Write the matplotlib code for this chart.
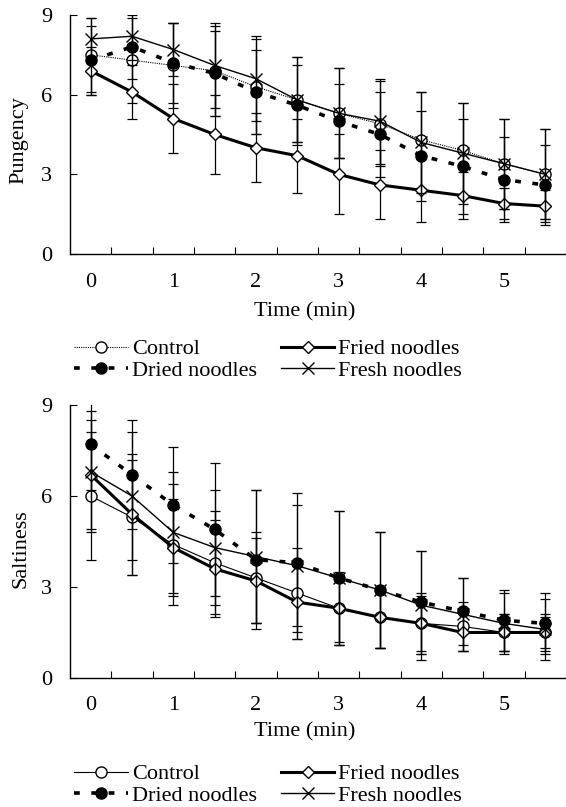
import numpy as np
import matplotlib
matplotlib.use("Agg")
import matplotlib.pyplot as plt

plt.rcParams.update({
    "font.family": "Liberation Serif", "font.size": 16,
    "axes.linewidth": 1.0, "xtick.direction": "in", "ytick.direction": "in",
})

time = [0, 0.5, 1, 1.5, 2, 2.5, 3, 3.5, 4, 4.5, 5, 5.5]
series = ["Control", "Fried noodles", "Dried noodles", "Fresh noodles"]

# pungency means / SD
pung_control = [7.5, 7.3, 7.1, 6.9, 6.3, 5.8, 5.3, 4.9, 4.3, 3.9, 3.4, 3.0]
pung_fried = [6.9, 6.1, 5.1, 4.5, 4.0, 3.7, 3.0, 2.6, 2.4, 2.2, 1.9, 1.8]
pung_dried = [7.3, 7.8, 7.2, 6.8, 6.1, 5.6, 5.0, 4.5, 3.7, 3.3, 2.8, 2.6]
pung_fresh = [8.1, 8.2, 7.7, 7.1, 6.6, 5.8, 5.3, 5.0, 4.2, 3.8, 3.4, 3.0]
pung_control_sd = [1.4, 1.6, 1.6, 1.7, 1.8, 1.6, 1.7, 1.6, 1.8, 1.8, 1.7, 1.7]
pung_fried_sd = [0.9, 1.0, 1.3, 1.5, 1.3, 1.4, 1.5, 1.3, 1.2, 0.9, 0.6, 0.6]
pung_dried_sd = [1.3, 1.2, 1.5, 1.6, 1.6, 1.5, 1.4, 1.6, 1.7, 1.8, 1.6, 1.5]
pung_fresh_sd = [0.8, 0.9, 1.0, 1.6, 1.6, 1.6, 1.7, 1.6, 1.9, 1.9, 1.7, 1.7]

# saltiness means / SD
salt_control = [6.0, 5.3, 4.4, 3.8, 3.3, 2.8, 2.3, 2.0, 1.8, 1.7, 1.5, 1.5]
salt_fried = [6.7, 5.4, 4.3, 3.6, 3.2, 2.5, 2.3, 2.0, 1.8, 1.5, 1.5, 1.5]
salt_dried = [7.7, 6.7, 5.7, 4.9, 3.9, 3.8, 3.3, 2.9, 2.5, 2.2, 1.9, 1.8]
salt_fresh = [6.8, 6.0, 4.8, 4.3, 4.0, 3.7, 3.3, 2.9, 2.4, 2.1, 1.8, 1.6]
salt_control_sd = [2.1, 1.9, 2.0, 1.7, 1.5, 1.5, 1.2, 1.0, 0.9, 0.8, 0.6, 0.6]
salt_fried_sd = [1.8, 2.0, 1.6, 1.6, 1.4, 1.2, 1.1, 1.0, 1.0, 0.6, 0.6, 0.5]
salt_dried_sd = [1.5, 1.8, 1.9, 2.2, 2.3, 2.3, 2.2, 1.9, 1.7, 1.1, 1.0, 1.0]
salt_fresh_sd = [2.0, 2.1, 2.0, 1.9, 2.2, 2.0, 2.2, 1.9, 1.8, 1.2, 1.0, 1.0]

ticks_y = [0, 3, 6, 9]
ticks_x = [0, 1, 2, 3, 4, 5]


def style(name, control_ls):
    if name == "Control":
        return dict(ls=control_ls, lw=0.8, marker="o", mfc="white", ms=8, mew=1.0)
    if name == "Fried noodles":
        return dict(ls="-", lw=2.2, marker="D", mfc="white", ms=6.5, mew=1.0)
    if name == "Dried noodles":
        return dict(ls=(0, (1.6, 3.2)), lw=2.6, marker="o", mfc="black", ms=8, mew=1.0)
    return dict(ls="-", lw=1.0, marker="x", ms=8.5, mew=1.0)


def panel(ax, means, sds, ylabel, control_ls, legend_y, xpad, xlab_y, ylab_x):
    handles = {}
    for name, m, s in zip(series, means, sds):
        st = style(name, control_ls)
        ax.errorbar(time, m, yerr=s, fmt="none", ecolor="black", elinewidth=0.9,
                    capsize=3.6, capthick=0.9)
        h, = ax.plot(time, m, color="black", mec="black", **st)
        handles[name] = h
    ax.set_xlim(-0.25, 5.75)
    ax.set_ylim(0, 9)
    ax.set_yticks(ticks_y)
    ax.set_xticks(np.arange(0.25, 5.76, 0.5))
    ax.set_xticklabels([])
    ax.set_xticks(ticks_x, minor=True)
    ax.set_xticklabels([str(t) for t in ticks_x], minor=True)
    ax.tick_params(axis="x", which="minor", length=0, pad=xpad)
    ax.tick_params(axis="x", which="major", length=5)
    ax.tick_params(axis="y", length=5, pad=13)
    for sp in ("top", "right"):
        ax.spines[sp].set_visible(False)
    ax.set_xlabel("Time (min)")
    ax.xaxis.set_label_coords(0.474, xlab_y)
    ax.set_ylabel(ylabel)
    ax.yaxis.set_label_coords(ylab_x, 0.475)
    order = ["Control", "Dried noodles", "Fried noodles", "Fresh noodles"]
    ax.legend([handles[n] for n in order], order, ncol=2, frameon=False,
              loc="center", bbox_to_anchor=(0.474, legend_y),
              bbox_transform=ax.figure.transFigure, handlelength=2.4,
              handletextpad=0.18, columnspacing=1.1, labelspacing=0.05,
              borderaxespad=0, borderpad=0)


fig = plt.figure(figsize=(5.66, 8.07), dpi=100)
ax1 = fig.add_axes([0.1237, 0.6853, 0.876, 0.2961])
ax2 = fig.add_axes([0.1237, 0.1599, 0.876, 0.3382])

panel(ax1, [pung_control, pung_fried, pung_dried, pung_fresh],
      [pung_control_sd, pung_fried_sd, pung_dried_sd, pung_fresh_sd],
      "Pungency", (0, (1, 1)), 1 - 360 / 807, 14, -0.2, -0.083)
panel(ax2, [salt_control, salt_fried, salt_dried, salt_fresh],
      [salt_control_sd, salt_fried_sd, salt_dried_sd, salt_fresh_sd],
      "Saltiness", "-", 1 - 785 / 807, 13, -0.162, -0.08)

fig.savefig("out.png", dpi=100)
